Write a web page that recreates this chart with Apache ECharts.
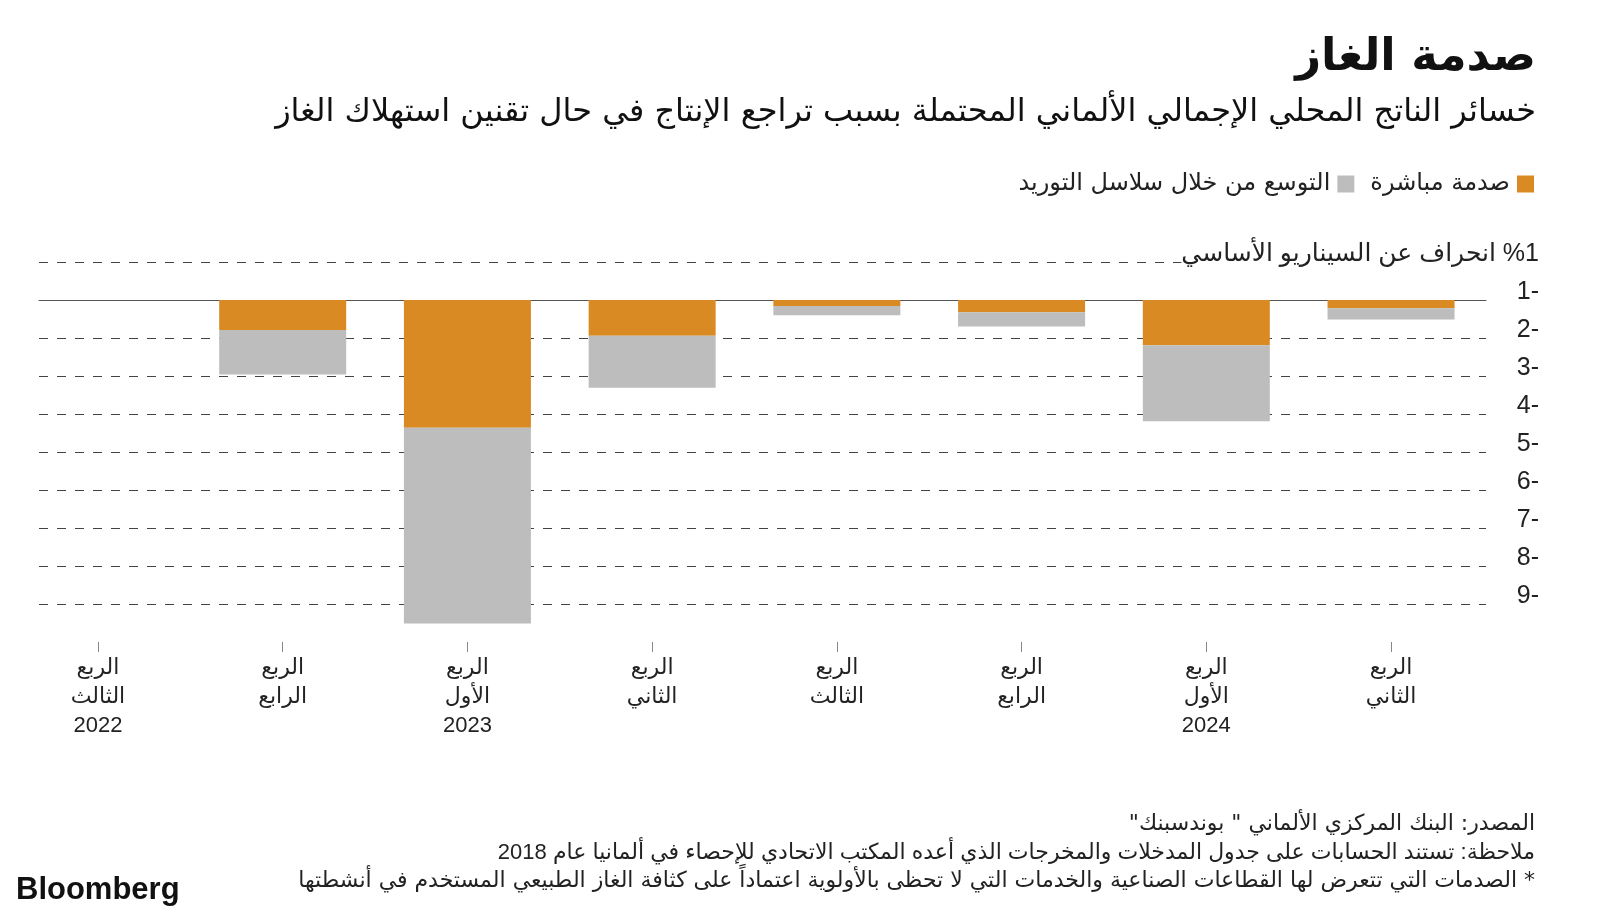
<!DOCTYPE html>
<html>
<head>
<meta charset="utf-8">
<script src="https://cdn.jsdelivr.net/npm/echarts@6/dist/echarts.min.js"></script>
<style>
html,body{margin:0;padding:0;background:#fff;}
#chart{width:1600px;height:914px;}
</style>
</head>
<body>
<div id="chart" dir="rtl"></div>
<script>
// ---- data ----
const categories = [
  'الربع\nالثالث\n2022',
  'الربع\nالرابع',
  'الربع\nالأول\n2023',
  'الربع\nالثاني',
  'الربع\nالثالث',
  'الربع\nالرابع',
  'الربع\nالأول\n2024',
  'الربع\nالثاني'
];
const directShock = [null, -0.79, -3.36, -0.94, -0.16, -0.32, -1.19, -0.22];
const supplyChain = [null, -1.17, -5.15, -1.37, -0.24, -0.38, -2.00, -0.29];
const seriesNames = ['صدمة مباشرة', 'التوسع من خلال سلاسل التوريد'];
// tick labels for values 1, 0, -1, ..., -8
const tickLabels = ['%1 انحراف عن السيناريو الأساسي', '-1', '-2', '-3', '-4', '-5', '-6', '-7', '-8', '-9'];
const titleText = 'صدمة الغاز';
const subtitleText = 'خسائر الناتج المحلي الإجمالي الألماني المحتملة بسبب تراجع الإنتاج في حال تقنين استهلاك الغاز';
const footerLines = [
  'المصدر: البنك المركزي الألماني " بوندسبنك"',
  'ملاحظة: تستند الحسابات على جدول المدخلات والمخرجات الذي أعده المكتب الاتحادي للإحصاء في ألمانيا عام 2018',
  '* الصدمات التي تتعرض لها القطاعات الصناعية والخدمات التي لا تحظى بالأولوية اعتماداً على كثافة الغاز الطبيعي المستخدم في أنشطتها'
];

const AR = "'DejaVu Sans', sans-serif";
const MIX = "'Liberation Sans', 'DejaVu Sans', sans-serif";
const ORANGE = '#DA8A23';
const GRAY = '#BDBDBD';

const chart = echarts.init(document.getElementById('chart'), null, {renderer: 'canvas'});

const option = {
  animation: false,
  backgroundColor: '#ffffff',
  textStyle: {fontFamily: MIX},
  grid: [
    {left: 5.6, right: 116.6, top: 262, bottom: 272, containLabel: false},
    {left: 39, right: 114, top: 262, bottom: 310, containLabel: false},
    {left: 39, right: 114, top: 254, bottom: 318, containLabel: false}
  ],
  legend: {
    data: [seriesNames[1], seriesNames[0]],
    right: 66,
    top: 172,
    padding: 0,
    align: 'right',
    itemWidth: 17,
    itemHeight: 17,
    itemGap: 16,
    icon: 'rect',
    textStyle: {fontFamily: AR, fontSize: 24, color: '#222', padding: [0, 2, 0, 0]}
  },
  xAxis: [
    {
      type: 'category', gridIndex: 0, data: categories,
      position: 'bottom',
      axisLine: {show: false, onZero: false},
      axisTick: {show: true, alignWithLabel: true, length: 10, lineStyle: {color: '#888'}},
      axisLabel: {fontFamily: MIX, fontSize: 22, color: '#222', lineHeight: 29, margin: 11, interval: 0},
      splitLine: {show: false}
    },
    {
      type: 'value', gridIndex: 1, min: 0, max: 1,
      axisLine: {show: true, onZero: true, lineStyle: {color: '#555', width: 1}},
      axisTick: {show: false}, axisLabel: {show: false}, splitLine: {show: false}
    },
    {
      type: 'value', gridIndex: 2, min: 0, max: 1, show: false
    }
  ],
  yAxis: [
    {
      type: 'value', gridIndex: 0, min: -9, max: 1, interval: 1,
      axisLine: {show: false}, axisTick: {show: false}, axisLabel: {show: false}, splitLine: {show: false}
    },
    {
      type: 'value', gridIndex: 1, min: -8, max: 1, interval: 1, position: 'right',
      axisLine: {show: false}, axisTick: {show: false},
      splitLine: {show: true, lineStyle: {color: '#444', width: 1, type: [9, 9]}},
      axisLabel: {show: false}
    },
    {
      type: 'value', gridIndex: 2, min: -8, max: 1, interval: 1, position: 'right',
      axisLine: {show: false}, axisTick: {show: false}, splitLine: {show: false},
      z: 5,
      axisLabel: {
        show: true, align: 'right', margin: 53, fontSize: 25, color: '#222',
        fontFamily: MIX, verticalAlign: 'middle',
        backgroundColor: '#ffffff', padding: [0, 0, 0, 0],
        formatter: function (v) { return tickLabels[Math.round(1 - v)]; }
      }
    }
  ],
  series: [
    {
      name: seriesNames[0], type: 'bar', stack: 'gdp', xAxisIndex: 0, yAxisIndex: 0,
      data: directShock, barWidth: 127, itemStyle: {color: ORANGE}
    },
    {
      name: seriesNames[1], type: 'bar', stack: 'gdp', xAxisIndex: 0, yAxisIndex: 0,
      data: supplyChain, barWidth: 127, itemStyle: {color: GRAY}
    },
    {type: 'line', xAxisIndex: 1, yAxisIndex: 1, data: [], silent: true},
    {type: 'line', xAxisIndex: 2, yAxisIndex: 2, data: [], silent: true}
  ],
  graphic: [
    {type: 'text', right: 64, top: 36, style: {text: titleText, font: "bold 45px " + AR, fill: '#111', textAlign: 'right'}},
    {type: 'text', right: 64, top: 97, style: {text: subtitleText, font: "32px " + AR, fill: '#111', textAlign: 'right'}},
    {type: 'text', right: 65, top: 813, style: {text: footerLines[0], font: "22px " + AR, fill: '#222', textAlign: 'right'}},
    {type: 'text', right: 65, top: 842, style: {text: footerLines[1], font: "22px " + MIX, fill: '#222', textAlign: 'right'}},
    {type: 'text', right: 65, top: 870, style: {text: footerLines[2], font: "22px " + AR, fill: '#222', textAlign: 'right'}},
    {type: 'text', left: 16, top: 875, style: {text: 'Bloomberg', font: "bold 31px 'Liberation Sans', Arial, sans-serif", fill: '#111'}}
  ]
};
chart.setOption(option);
</script>
</body>
</html>
